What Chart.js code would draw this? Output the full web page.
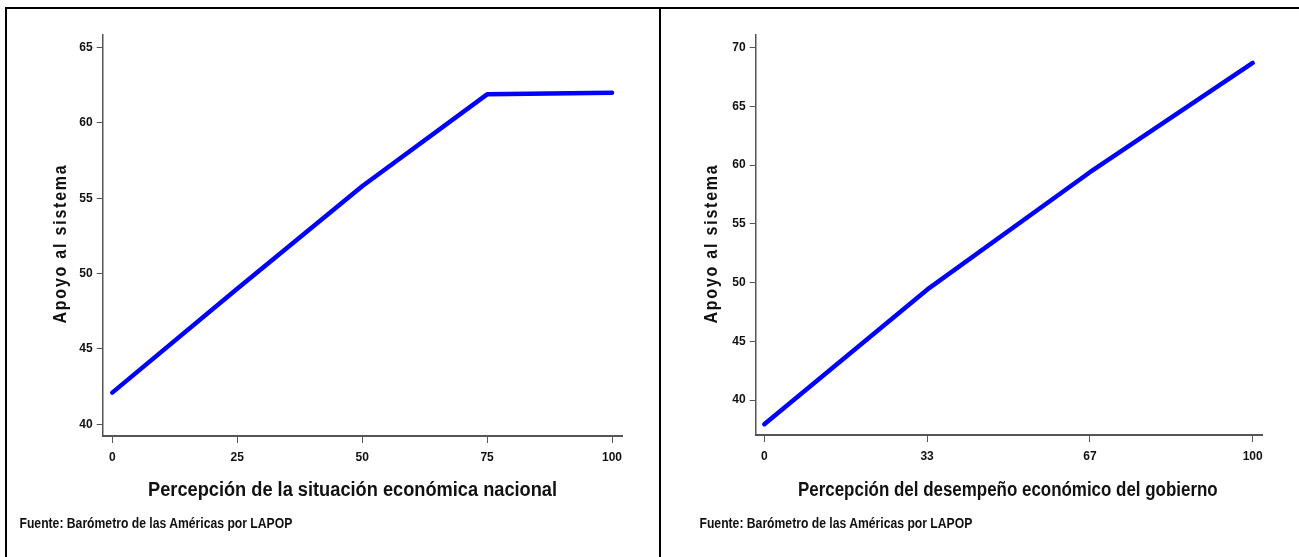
<!DOCTYPE html>
<html>
<head>
<meta charset="utf-8">
<script src="https://cdn.jsdelivr.net/npm/chart.js@4.4.1/dist/chart.umd.min.js"></script>
<style>
  html, body { margin: 0; padding: 0; background: #fff; }
  body { width: 1299px; height: 557px; position: relative; overflow: hidden;
         font-family: 'Liberation Sans', Arial, sans-serif; font-weight: bold; color: #111; }
  canvas { position: absolute; top: 0; }
  #cLeft { left: 0; }
  #cRight { left: 660px; }
  .frame { position: absolute; left: 5px; top: 7px; width: 1400px; height: 700px; border: 2px solid #000; }
  .sep { position: absolute; left: 659px; top: 7px; width: 2px; height: 560px; background: #000; }
  .txt { position: absolute; white-space: nowrap; }
  .xtitle { font-size: 20px; }
  .ytitle { font-size: 18px; letter-spacing: 2px; }
  .note { font-size: 14px; }
</style>
</head>
<body>
<canvas id="cLeft" width="660" height="557"></canvas>
<canvas id="cRight" width="639" height="557"></canvas>
<div class="frame"></div>
<div class="sep"></div>
<div class="txt ytitle" data-cx="60" data-cy="243" data-w="160" data-rot="1">Apoyo al sistema</div>
<div class="txt ytitle" data-cx="711" data-cy="243" data-w="160" data-rot="1">Apoyo al sistema</div>
<div class="txt xtitle" data-cx="352" data-cy="489" data-w="409">Percepción de la situación económica nacional</div>
<div class="txt xtitle" data-cx="1008" data-cy="489" data-w="420">Percepción del desempeño económico del gobierno</div>
<div class="txt note" data-cx="156" data-cy="523" data-w="273">Fuente: Barómetro de las Américas por LAPOP</div>
<div class="txt note" data-cx="836" data-cy="523" data-w="273">Fuente: Barómetro de las Américas por LAPOP</div>
<script>
// Left: situación económica nacional
const leftX = [0, 25, 50, 75, 100];
const leftY = [42.1, 49.0, 55.8, 61.9, 62.0];
const leftXTicks = [0, 25, 50, 75, 100];
const leftYTicks = [40, 45, 50, 55, 60, 65];

// Right: desempeño económico del gobierno
const rightX = [0, 33.33, 66.67, 100];
const rightY = [37.95, 49.4, 59.4, 68.7];
const rightXTicks = [0, 33.33, 66.67, 100];
const rightXLabels = ['0', '33', '67', '100'];
const rightYTicks = [40, 45, 50, 55, 60, 65, 70];

const FONT = "'Liberation Sans', Arial, sans-serif";
const AXIS = '#555555';

// condensed look: squeeze each label to the width measured on the reference
document.querySelectorAll('.txt').forEach(el => {
    const w = el.offsetWidth, h = el.offsetHeight;
    const sx = (+el.dataset.w) / w;
    el.style.left = (+el.dataset.cx - w / 2) + 'px';
    el.style.top = (+el.dataset.cy - h / 2) + 'px';
    el.style.transform = el.dataset.rot ? `rotate(-90deg) scaleX(${sx})` : `scaleX(${sx})`;
});

function makeChart(id, xs, ys, xTicks, xLabels, yTicks, range, box) {
    const canvas = document.getElementById(id);
    const points = xs.map((x, i) => ({ x: x, y: ys[i] }));
    return new Chart(canvas, {
        type: 'line',
        data: {
            datasets: [{
                data: points,
                borderColor: '#0000FF',
                borderWidth: 4.5,
                borderCapStyle: 'round',
                borderJoinStyle: 'round',
                pointRadius: 0,
                tension: 0,
                fill: false
            }]
        },
        options: {
            responsive: false,
            animation: false,
            devicePixelRatio: 1,
            layout: { padding: { left: 0, top: box.top, right: box.right, bottom: 0 } },
            plugins: { legend: { display: false }, tooltip: { enabled: false } },
            scales: {
                x: {
                    type: 'linear',
                    min: range.xmin,
                    max: range.xmax,
                    afterBuildTicks: s => { s.ticks = xTicks.map(v => ({ value: v })); },
                    afterFit: s => { s.height = box.xh; },
                    grid: { display: true, drawOnChartArea: false, drawTicks: true, tickLength: 7, color: AXIS, lineWidth: 1 },
                    border: { display: true, color: AXIS, width: 2 },
                    ticks: {
                        color: '#111', padding: 7, maxRotation: 0, autoSkip: false,
                        font: { family: FONT, size: 12, weight: 'bold' },
                        callback: (v, i) => xLabels ? xLabels[i] : String(v)
                    }
                },
                y: {
                    min: range.ymin,
                    max: range.ymax,
                    afterBuildTicks: s => { s.ticks = yTicks.map(v => ({ value: v })); },
                    afterFit: s => { s.width = box.yw; },
                    grid: { display: true, drawOnChartArea: false, drawTicks: true, tickLength: 6, color: AXIS, lineWidth: 1 },
                    border: { display: true, color: AXIS, width: 1.5 },
                    ticks: {
                        color: '#111', padding: 4, autoSkip: false,
                        font: { family: FONT, size: 12, weight: 'bold' }
                    }
                }
            }
        }
    });
}

makeChart('cLeft', leftX, leftY, leftXTicks, null, leftYTicks,
    { xmin: -1.92, xmax: 102, ymin: 39.22, ymax: 65.84 },
    { top: 35, right: 38, yw: 102.7, xh: 121 });
makeChart('cRight', rightX, rightY, rightXTicks, rightXLabels, rightYTicks,
    { xmin: -1.76, xmax: 101.97, ymin: 37.03, ymax: 71.08 },
    { top: 35, right: 36.7, yw: 95.7, xh: 122 });
</script>
</body>
</html>
